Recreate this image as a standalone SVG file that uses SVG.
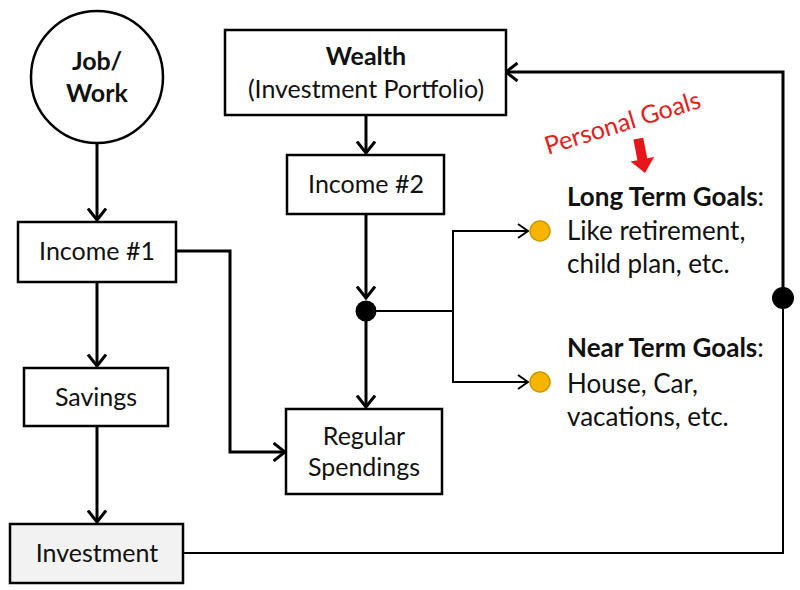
<svg xmlns="http://www.w3.org/2000/svg" width="800" height="590" viewBox="0 0 800 590">
<defs>
<style>
.box{fill:#fff;stroke:#000;stroke-width:2.5}
.t{font-family:"Lato","Liberation Sans",sans-serif;font-size:25px;fill:#111;text-anchor:middle}
.g{font-family:"Lato","Liberation Sans",sans-serif;font-size:26px;fill:#111}
.b{font-weight:bold}
.thick{fill:none;stroke:#000;stroke-width:3}
.thin{fill:none;stroke:#000;stroke-width:2}
.goal{fill:#f7b500;stroke:#c99a00;stroke-width:1.5}
</style>
<marker id="ah" markerUnits="userSpaceOnUse" viewBox="0 0 14 20" refX="12.5" refY="10" markerWidth="14" markerHeight="20" orient="auto">
<path d="M1,1 L12.5,10 L1,19" fill="none" stroke="#000" stroke-width="3"/>
</marker>
<marker id="as" markerUnits="userSpaceOnUse" viewBox="0 0 12 16" refX="11" refY="8" markerWidth="12" markerHeight="16" orient="auto">
<path d="M1,1 L11,8 L1,15" fill="none" stroke="#000" stroke-width="2"/>
</marker>
</defs>
<rect width="800" height="590" fill="#fff"/>
<g id="connectors">
<path class="thick" d="M97,143 V220" marker-end="url(#ah)"/>
<path class="thick" d="M97,282 V366" marker-end="url(#ah)"/>
<path class="thick" d="M97,426 V522" marker-end="url(#ah)"/>
<path class="thick" d="M176,251 H230 V452 H285" marker-end="url(#ah)"/>
<path class="thick" d="M366,115 V153" marker-end="url(#ah)"/>
<path class="thick" d="M366,214 V298" marker-end="url(#ah)"/>
<path class="thick" d="M366,311 V407" marker-end="url(#ah)"/>
<path class="thin" d="M366,311 H453"/>
<path class="thin" d="M453,311 V231 H528" marker-end="url(#as)"/>
<path class="thin" d="M453,311 V382 H528" marker-end="url(#as)"/>
<path class="thin" d="M184,553 H783 V298"/>
<path class="thick" d="M783,298 V72 H506" marker-end="url(#ah)"/>
<circle cx="366" cy="311" r="10.5" fill="#000"/>
<circle cx="783" cy="298" r="11" fill="#000"/>
</g>
<g id="job">
<circle cx="97" cy="77" r="66" fill="#fff" stroke="#000" stroke-width="2.5"/>
<text class="t b" x="97" y="70">Job/</text>
<text class="t b" x="97" y="102">Work</text>
</g>
<g id="income1">
<rect class="box" x="18" y="222" width="158" height="60"/>
<text class="t" x="97" y="260">Income #1</text>
</g>
<g id="savings">
<rect class="box" x="24" y="368" width="144" height="58"/>
<text class="t" x="96" y="406">Savings</text>
</g>
<g id="investment">
<rect class="box" x="10" y="524" width="173" height="59" style="fill:#f2f2f2"/>
<text class="t" x="97" y="562">Investment</text>
</g>
<g id="wealth">
<rect class="box" x="225" y="30" width="281" height="85"/>
<text class="t b" x="366" y="65">Wealth</text>
<text class="t" x="366" y="98">(Investment Portfolio)</text>
</g>
<g id="income2">
<rect class="box" x="287" y="155" width="157" height="59"/>
<text class="t" x="366" y="193">Income #2</text>
</g>
<g id="regular">
<rect class="box" x="286" y="409" width="156" height="85"/>
<text class="t" x="364" y="445">Regular</text>
<text class="t" x="364" y="476">Spendings</text>
</g>
<g id="longterm">
<circle class="goal" cx="540" cy="231" r="10"/>
<text class="g" x="567" y="206"><tspan class="b">Long Term Goals</tspan>:</text>
<text class="g" x="567" y="240">Like retirement,</text>
<text class="g" x="567" y="273">child plan, etc.</text>
</g>
<g id="nearterm">
<circle class="goal" cx="540" cy="382" r="10"/>
<text class="g" x="567" y="357"><tspan class="b">Near Term Goals</tspan>:</text>
<text class="g" x="567" y="393">House, Car,</text>
<text class="g" x="567" y="426">vacations, etc.</text>
</g>
<g id="personal">
<text x="625" y="131" transform="rotate(-17 625 131)" style="font-family:'Lato','Liberation Sans',sans-serif;font-size:25px;fill:#e0201c;text-anchor:middle">Personal Goals</text>
<polygon points="-5,-35 5,-35 5,-14 12,-14 0,0 -12,-14 -5,-14" fill="#e8161a" transform="translate(645,173) rotate(-11)"/>
</g>
</svg>
